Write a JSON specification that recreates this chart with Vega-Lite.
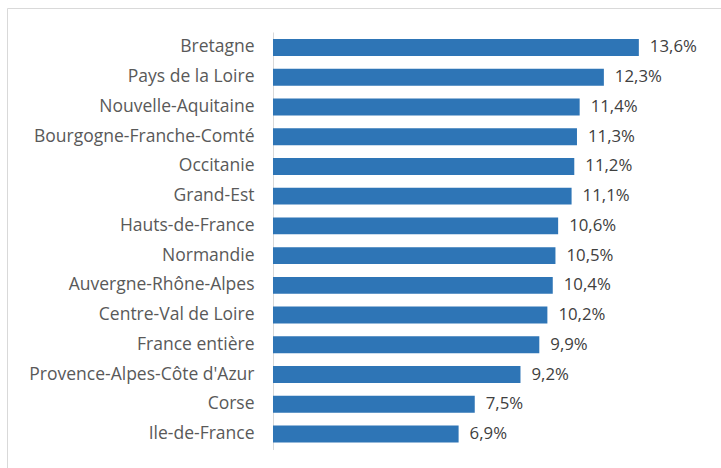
{
  "$schema": "https://vega.github.io/schema/vega-lite/v6.json",
  "width": 714,
  "height": 460,
  "autosize": {"type": "none"},
  "padding": {"left": 7, "top": 8, "right": 0, "bottom": 0},
  "background": "white",
  "config": {
    "view": {"stroke": "#d9d9d9", "strokeWidth": 1},
    "font": "Open Sans",
    "locale": {"number": {"decimal": ",", "thousands": " ", "grouping": [3], "currency": ["", " €"]}}
  },
  "data": {
    "values": [
      {"region": "Bretagne", "value": 0.136},
      {"region": "Pays de la Loire", "value": 0.123},
      {"region": "Nouvelle-Aquitaine", "value": 0.114},
      {"region": "Bourgogne-Franche-Comté", "value": 0.113},
      {"region": "Occitanie", "value": 0.112},
      {"region": "Grand-Est", "value": 0.111},
      {"region": "Hauts-de-France", "value": 0.106},
      {"region": "Normandie", "value": 0.105},
      {"region": "Auvergne-Rhône-Alpes", "value": 0.104},
      {"region": "Centre-Val de Loire", "value": 0.102},
      {"region": "France entière", "value": 0.099},
      {"region": "Provence-Alpes-Côte d'Azur", "value": 0.092},
      {"region": "Corse", "value": 0.075},
      {"region": "Ile-de-France", "value": 0.069}
    ]
  },
  "encoding": {
    "y": {
      "field": "region",
      "type": "nominal",
      "sort": null,
      "scale": {"range": [24, 441.5], "paddingInner": 0.43, "paddingOuter": 0.235},
      "axis": {
        "title": null,
        "offset": -266,
        "domainColor": "#d9d9d9",
        "ticks": false,
        "labelPadding": 19,
        "labelFontSize": 17.5,
        "labelLimit": 400,
        "labelColor": "#595959",
        "labelFont": "Open Sans"
      }
    },
    "x": {
      "field": "value",
      "type": "quantitative",
      "scale": {"domain": [-0.09888, 0.16654], "nice": false, "zero": false},
      "axis": null
    }
  },
  "layer": [
    {"mark": {"type": "bar", "color": "#2e75b6"}, "encoding": {"x2": {"datum": 0}}},
    {
      "mark": {"type": "text", "align": "left", "dx": 11, "fontSize": 16.8, "color": "#404040", "font": "Open Sans"},
      "encoding": {"text": {"field": "value", "type": "quantitative", "format": ".1%"}}
    }
  ]
}
